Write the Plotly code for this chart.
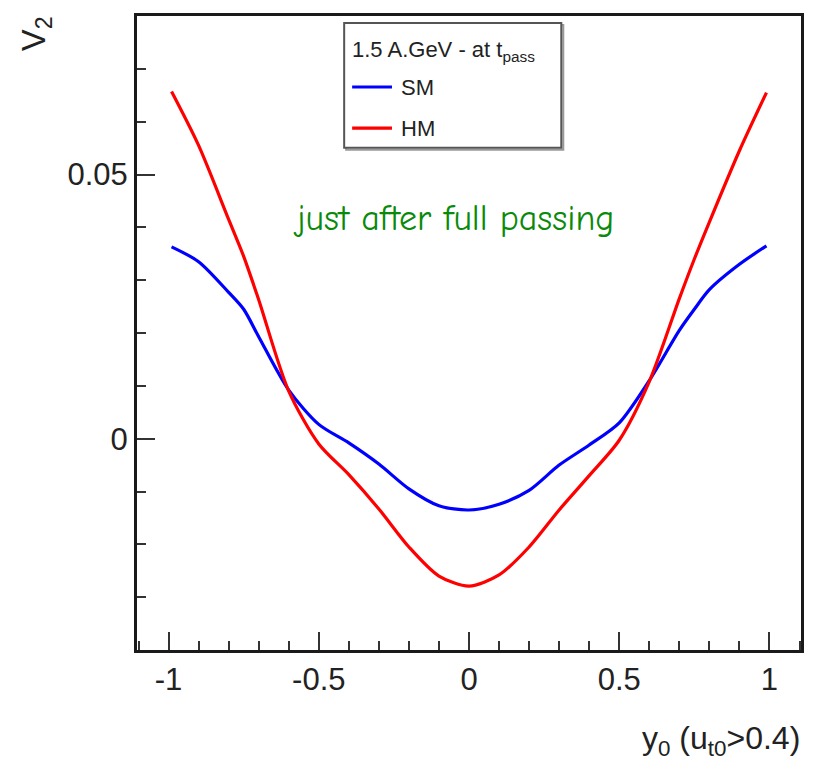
import plotly.graph_objects as go

# ---- data ----
y0_rapidity = [-0.99, -0.9, -0.8, -0.75, -0.7, -0.6, -0.5, -0.4, -0.3, -0.2, -0.1, 0.0,
               0.1, 0.2, 0.3, 0.4, 0.5, 0.6, 0.7, 0.75, 0.8, 0.9, 0.99]
v2_SM = [0.0363, 0.0335, 0.0277, 0.0245, 0.0193, 0.0092, 0.0027, -0.0008, -0.0048, -0.0095,
         -0.0127, -0.0135, -0.0124, -0.0098, -0.0050, -0.0012, 0.0030, 0.0110, 0.0205,
         0.0245, 0.0282, 0.0330, 0.0365]
v2_HM = [0.0657, 0.0555, 0.0415, 0.0345, 0.0263, 0.0090, -0.0010, -0.0068, -0.0133, -0.0205,
         -0.0260, -0.0279, -0.0258, -0.0205, -0.0135, -0.0070, -0.0003, 0.0108, 0.0265,
         0.0340, 0.0410, 0.0545, 0.0655]
series_names = ["SM", "HM"]
series_colors = ["#0000ff", "#ff0000"]
legend_title = "1.5 A.GeV - at t<sub>pass</sub>"
x_tick_vals = [-1, -0.5, 0, 0.5, 1]
x_tick_text = ["-1", "-0.5", "0", "0.5", "1"]
y_tick_vals = [0, 0.05]
y_tick_text = ["0", "0.05"]

FONT = "Liberation Sans, Arial, Helvetica, sans-serif"

fig = go.Figure()
for name, ys, col in zip(series_names, [v2_SM, v2_HM], series_colors):
    fig.add_trace(go.Scatter(x=y0_rapidity, y=ys, mode="lines", name=name,
                             line=dict(color=col, width=3.2, shape="spline", smoothing=0.8),
                             showlegend=False))

axis_common = dict(showline=True, linecolor="#1a1a1a", linewidth=3, mirror=True,
                   ticks="inside", tickcolor="#333", tickwidth=2, ticklen=18,
                   showgrid=False, zeroline=False,
                   tickfont=dict(family=FONT, size=31, color="#222"))

fig.update_xaxes(range=[-1.105, 1.105], tickvals=x_tick_vals, ticktext=x_tick_text,
                 minor=dict(dtick=0.1, tick0=0, ticks="inside", ticklen=9,
                            tickcolor="#333", tickwidth=2),
                 **axis_common)
fig.update_yaxes(range=[-0.04, 0.08], tickvals=y_tick_vals, ticktext=y_tick_text,
                 minor=dict(dtick=0.01, tick0=0, ticks="inside", ticklen=9,
                            tickcolor="#333", tickwidth=2),
                 **axis_common)

# ---- manual legend box ----
fig.add_shape(type="rect", xref="paper", yref="paper", x0=0.315, x1=0.642, y0=0.789, y1=0.986,
              line=dict(color="#999", width=2), fillcolor="rgba(0,0,0,0)")
fig.add_shape(type="rect", xref="paper", yref="paper", x0=0.312, x1=0.639, y0=0.792, y1=0.989,
              line=dict(color="#555", width=2), fillcolor="white")
fig.add_annotation(xref="paper", yref="paper", x=0.321, y=0.945, text=legend_title,
                   showarrow=False, xanchor="left", yanchor="middle",
                   font=dict(family=FONT, size=22, color="#222"))
for i, (name, col) in enumerate(zip(series_names, series_colors)):
    yy = [0.888, 0.823][i]
    fig.add_shape(type="line", xref="paper", yref="paper", x0=0.324, x1=0.384, y0=yy, y1=yy,
                  line=dict(color=col, width=3.2))
    fig.add_annotation(xref="paper", yref="paper", x=0.395, y=yy, text=name,
                       showarrow=False, xanchor="left", yanchor="middle",
                       font=dict(family=FONT, size=22, color="#222"))

# ---- text annotation ----
fig.add_annotation(x=-0.053, y=0.0416, text="just after full passing", showarrow=False,
                   font=dict(family="Comic Sans MS, Comic Neue, Noto Sans, sans-serif",
                             size=36, color="#0a8a0a"))

# ---- axis titles ----
fig.add_annotation(xref="paper", yref="paper", x=-0.153, y=0.972, text="V<sub>2</sub>",
                   textangle=-90, showarrow=False, xanchor="center", yanchor="middle",
                   font=dict(family=FONT, size=33, color="#222"))
fig.add_annotation(xref="paper", yref="paper", x=1.002, y=-0.142,
                   text="y<sub>0</sub> (u<sub>t0</sub>&gt;0.4)", showarrow=False,
                   xanchor="right", yanchor="middle",
                   font=dict(family=FONT, size=32, color="#222"))

fig.update_layout(width=814, height=765, plot_bgcolor="white", paper_bgcolor="white",
                  margin=dict(l=137, r=10, t=16, b=115), showlegend=False)

fig.write_html("out.html")
